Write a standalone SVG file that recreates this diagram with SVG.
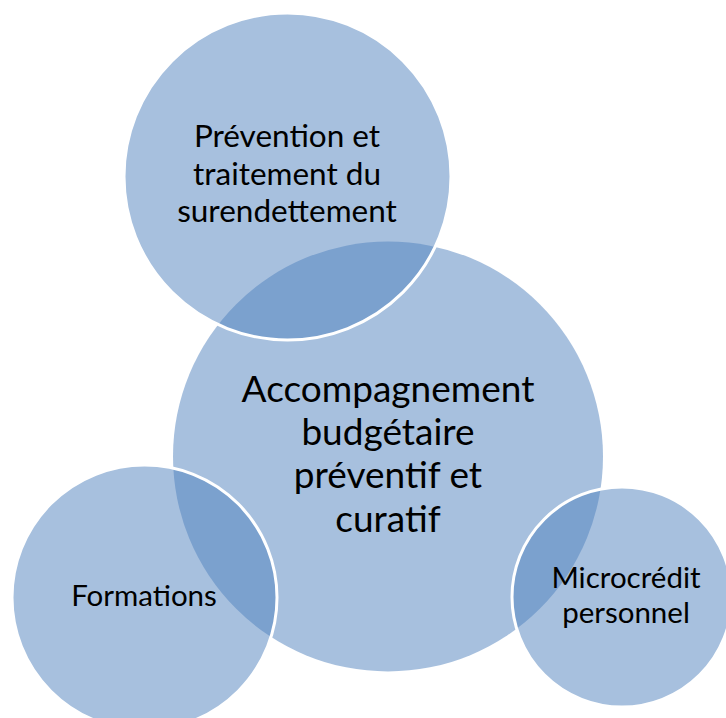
<svg xmlns="http://www.w3.org/2000/svg" width="726" height="718" viewBox="0 0 726 718">
<style>
.c{fill:#4f81bd;fill-opacity:0.5}
.s{stroke:#ffffff;stroke-width:3}
text{font-family:Lato,"Open Sans",sans-serif;fill:#000;text-anchor:middle}
</style>
<rect width="726" height="718" fill="#ffffff"/>
<g id="main">
<circle class="c" cx="388" cy="456.5" r="215"/>
<text font-size="37"><tspan x="388" y="402">Accompagnement</tspan><tspan x="388" y="445">budgétaire</tspan><tspan x="388" y="488">préventif et</tspan><tspan x="388" y="532">curatif</tspan></text>
</g>
<g id="prevention">
<circle class="c s" cx="287.5" cy="176.5" r="163.5"/>
<text font-size="31.5"><tspan x="287" y="147">Prévention et</tspan><tspan x="287" y="185">traitement du</tspan><tspan x="287" y="222">surendettement</tspan></text>
</g>
<g id="formations">
<circle class="c s" cx="144.5" cy="597.5" r="132.5"/>
<text x="144" y="606" font-size="29.5">Formations</text>
</g>
<g id="microcredit">
<circle class="c s" cx="622" cy="597" r="110"/>
<text font-size="29.5"><tspan x="626" y="588">Microcrédit</tspan><tspan x="626" y="623">personnel</tspan></text>
</g>
<g id="connectors"/>
</svg>
